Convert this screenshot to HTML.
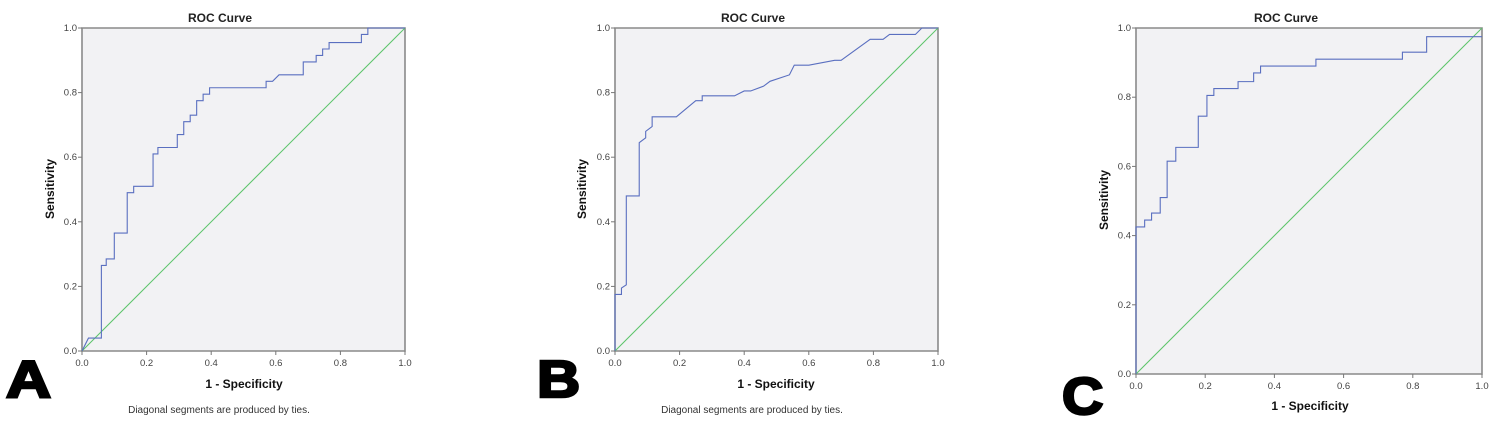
<!DOCTYPE html>
<html><head><meta charset="utf-8"><style>
body{margin:0;background:#fff;width:1500px;height:434px;overflow:hidden}
svg{display:block}
text{font-family:"Liberation Sans",sans-serif}
.t{font-size:12px;font-weight:bold;fill:#222}
.k{font-size:9.5px;fill:#444}
.ax{font-size:12px;font-weight:bold;fill:#111}
.n{font-size:10px;fill:#333}
.L{font-size:52px;font-weight:900;fill:#000;stroke:#000;stroke-width:2.5}
.c{fill:none;stroke:#5a6fc0;stroke-width:1.1;vector-effect:non-scaling-stroke}
.d{fill:none;stroke:#5cc46a;stroke-width:1;vector-effect:non-scaling-stroke}
.f{fill:#f2f2f4;stroke:#8a8a8a;stroke-width:1.6;vector-effect:non-scaling-stroke}
.tk{stroke:#777;stroke-width:1}
</style></head><body>
<svg width="1500" height="434" viewBox="0 0 1500 434">
<!-- Panel A -->
<g>
<text class="t" x="220" y="22" text-anchor="middle">ROC Curve</text>
<g transform="translate(82,351) scale(323,-323)">
<rect class="f" x="0" y="0" width="1" height="1"/>
<line class="d" x1="0" y1="0" x2="1" y2="1"/>
<polyline class="c" points="0,0 0.02,0.04 0.06,0.04 0.06,0.265 0.075,0.265 0.075,0.285 0.1,0.285 0.1,0.365 0.14,0.365 0.14,0.49 0.16,0.49 0.16,0.51 0.22,0.51 0.22,0.61 0.235,0.61 0.235,0.63 0.295,0.63 0.295,0.67 0.315,0.67 0.315,0.71 0.335,0.71 0.335,0.73 0.355,0.73 0.355,0.775 0.375,0.775 0.375,0.795 0.395,0.795 0.395,0.815 0.57,0.815 0.57,0.835 0.59,0.835 0.61,0.855 0.685,0.855 0.685,0.895 0.725,0.895 0.725,0.915 0.745,0.915 0.745,0.935 0.765,0.935 0.765,0.955 0.865,0.955 0.865,0.98 0.885,0.98 0.885,1 1,1"/>
</g>
<g class="tk">
<line x1="78" y1="351" x2="82" y2="351"/><line x1="78" y1="286.4" x2="82" y2="286.4"/><line x1="78" y1="221.8" x2="82" y2="221.8"/><line x1="78" y1="157.2" x2="82" y2="157.2"/><line x1="78" y1="92.6" x2="82" y2="92.6"/><line x1="78" y1="28" x2="82" y2="28"/>
<line x1="82" y1="351" x2="82" y2="355"/><line x1="146.6" y1="351" x2="146.6" y2="355"/><line x1="211.2" y1="351" x2="211.2" y2="355"/><line x1="275.8" y1="351" x2="275.8" y2="355"/><line x1="340.4" y1="351" x2="340.4" y2="355"/><line x1="405" y1="351" x2="405" y2="355"/>
</g>
<g class="k" text-anchor="end">
<text x="77" y="354">0.0</text><text x="77" y="289.4">0.2</text><text x="77" y="224.8">0.4</text><text x="77" y="160.2">0.6</text><text x="77" y="95.6">0.8</text><text x="77" y="31">1.0</text>
</g>
<g class="k" text-anchor="middle">
<text x="82" y="366">0.0</text><text x="146.6" y="366">0.2</text><text x="211.2" y="366">0.4</text><text x="275.8" y="366">0.6</text><text x="340.4" y="366">0.8</text><text x="405" y="366">1.0</text>
</g>
<text class="ax" x="244" y="388" text-anchor="middle">1 - Specificity</text>
<text class="ax" transform="translate(54,189) rotate(-90)" text-anchor="middle">Sensitivity</text>
<text class="n" x="219" y="413" text-anchor="middle">Diagonal segments are produced by ties.</text>
<text class="L" transform="translate(6,397) scale(1.2,1)">A</text>
</g>
<!-- Panel B -->
<g>
<text class="t" x="753" y="22" text-anchor="middle">ROC Curve</text>
<g transform="translate(615,351) scale(323,-323)">
<rect class="f" x="0" y="0" width="1" height="1"/>
<line class="d" x1="0" y1="0" x2="1" y2="1"/>
<polyline class="c" points="0,0 0,0.175 0.02,0.175 0.02,0.195 0.035,0.205 0.035,0.48 0.075,0.48 0.075,0.645 0.095,0.66 0.095,0.68 0.115,0.695 0.115,0.725 0.19,0.725 0.25,0.775 0.27,0.775 0.27,0.79 0.37,0.79 0.4,0.805 0.42,0.805 0.46,0.82 0.48,0.835 0.54,0.855 0.555,0.885 0.6,0.885 0.68,0.9 0.7,0.9 0.79,0.965 0.83,0.965 0.85,0.98 0.93,0.98 0.95,1 1,1"/>
</g>
<g class="tk">
<line x1="611" y1="351" x2="615" y2="351"/><line x1="611" y1="286.4" x2="615" y2="286.4"/><line x1="611" y1="221.8" x2="615" y2="221.8"/><line x1="611" y1="157.2" x2="615" y2="157.2"/><line x1="611" y1="92.6" x2="615" y2="92.6"/><line x1="611" y1="28" x2="615" y2="28"/>
<line x1="615" y1="351" x2="615" y2="355"/><line x1="679.6" y1="351" x2="679.6" y2="355"/><line x1="744.2" y1="351" x2="744.2" y2="355"/><line x1="808.8" y1="351" x2="808.8" y2="355"/><line x1="873.4" y1="351" x2="873.4" y2="355"/><line x1="938" y1="351" x2="938" y2="355"/>
</g>
<g class="k" text-anchor="end">
<text x="610" y="354">0.0</text><text x="610" y="289.4">0.2</text><text x="610" y="224.8">0.4</text><text x="610" y="160.2">0.6</text><text x="610" y="95.6">0.8</text><text x="610" y="31">1.0</text>
</g>
<g class="k" text-anchor="middle">
<text x="615" y="366">0.0</text><text x="679.6" y="366">0.2</text><text x="744.2" y="366">0.4</text><text x="808.8" y="366">0.6</text><text x="873.4" y="366">0.8</text><text x="938" y="366">1.0</text>
</g>
<text class="ax" x="776" y="388" text-anchor="middle">1 - Specificity</text>
<text class="ax" transform="translate(586,189) rotate(-90)" text-anchor="middle">Sensitivity</text>
<text class="n" x="752" y="413" text-anchor="middle">Diagonal segments are produced by ties.</text>
<text class="L" transform="translate(537,397) scale(1.15,1)">B</text>
</g>
<!-- Panel C -->
<g>
<text class="t" x="1286" y="22" text-anchor="middle">ROC Curve</text>
<g transform="translate(1136,374) scale(346,-346)">
<rect class="f" x="0" y="0" width="1" height="1"/>
<line class="d" x1="0" y1="0" x2="1" y2="1"/>
<polyline class="c" points="0,0 0,0.425 0.025,0.425 0.025,0.445 0.045,0.445 0.045,0.465 0.07,0.465 0.07,0.51 0.09,0.51 0.09,0.615 0.115,0.615 0.115,0.655 0.18,0.655 0.18,0.745 0.205,0.745 0.205,0.805 0.225,0.805 0.225,0.825 0.295,0.825 0.295,0.845 0.34,0.845 0.34,0.87 0.36,0.87 0.36,0.89 0.52,0.89 0.52,0.91 0.77,0.91 0.77,0.93 0.84,0.93 0.84,0.975 1,0.975"/>
</g>
<g class="tk">
<line x1="1132" y1="374" x2="1136" y2="374"/><line x1="1132" y1="304.8" x2="1136" y2="304.8"/><line x1="1132" y1="235.6" x2="1136" y2="235.6"/><line x1="1132" y1="166.4" x2="1136" y2="166.4"/><line x1="1132" y1="97.2" x2="1136" y2="97.2"/><line x1="1132" y1="28" x2="1136" y2="28"/>
<line x1="1136" y1="374" x2="1136" y2="378"/><line x1="1205.2" y1="374" x2="1205.2" y2="378"/><line x1="1274.4" y1="374" x2="1274.4" y2="378"/><line x1="1343.6" y1="374" x2="1343.6" y2="378"/><line x1="1412.8" y1="374" x2="1412.8" y2="378"/><line x1="1482" y1="374" x2="1482" y2="378"/>
</g>
<g class="k" text-anchor="end">
<text x="1131" y="377">0.0</text><text x="1131" y="307.8">0.2</text><text x="1131" y="238.6">0.4</text><text x="1131" y="169.4">0.6</text><text x="1131" y="100.2">0.8</text><text x="1131" y="31">1.0</text>
</g>
<g class="k" text-anchor="middle">
<text x="1136" y="389">0.0</text><text x="1205.2" y="389">0.2</text><text x="1274.4" y="389">0.4</text><text x="1343.6" y="389">0.6</text><text x="1412.8" y="389">0.8</text><text x="1482" y="389">1.0</text>
</g>
<text class="ax" x="1310" y="410" text-anchor="middle">1 - Specificity</text>
<text class="ax" transform="translate(1108,200) rotate(-90)" text-anchor="middle">Sensitivity</text>
<text class="L" transform="translate(1062,414) scale(1.1,1)">C</text>
</g>
</svg>
</body></html>
